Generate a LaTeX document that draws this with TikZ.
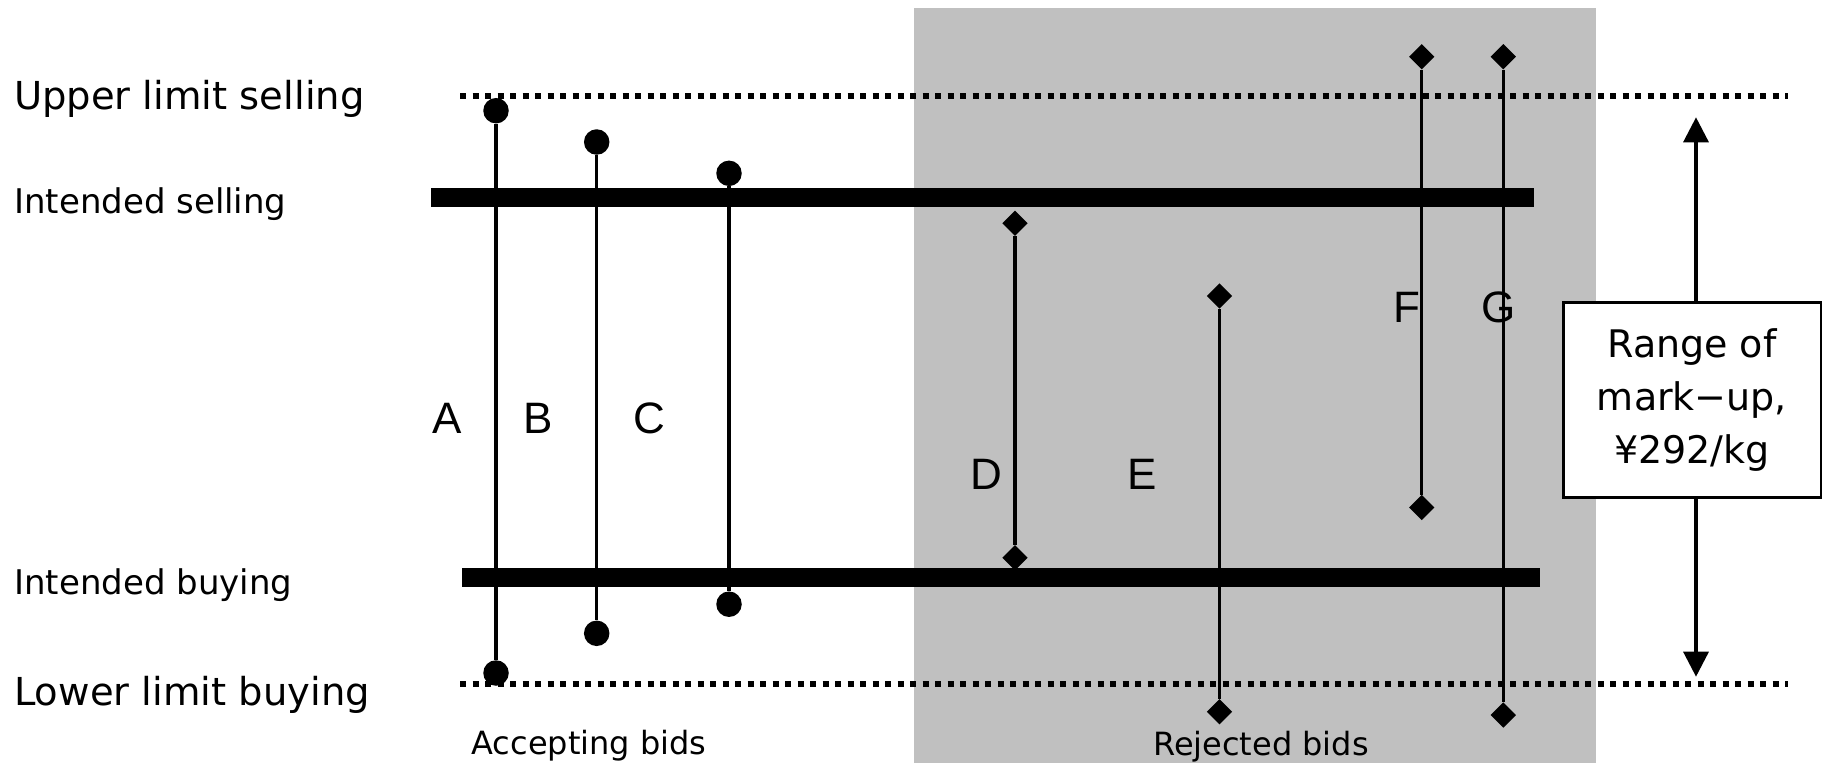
\documentclass[tikz,border=0pt]{standalone}
\usepackage{fontspec}
\setmainfont{DejaVu Sans}
\newfontfamily\letterfont{Liberation Sans}
\usetikzlibrary{arrows.meta,shapes.geometric}

\definecolor{rejectshade}{RGB}{192,192,192}

\tikzset{
  limitline/.style={line width=6pt, dash pattern=on 6pt off 6.5pt},
  intentbar/.style={line width=18.5pt},
  bidline/.style={line width=3.3pt},
  accdot/.style={circle, fill=black, inner sep=0pt, minimum size=25.5pt},
  rejdot/.style={diamond, fill=black, inner sep=0pt, minimum size=25.5pt},
  biglabel/.style={font=\fontsize{38.5}{46}\selectfont, inner sep=0pt, anchor=base west},
  midlabel/.style={font=\fontsize{34}{40}\selectfont, inner sep=0pt, anchor=base west},
  zonelabel/.style={font=\fontsize{32}{38}\selectfont, inner sep=0pt, anchor=base},
  bidlabel/.style={font=\letterfont\fontsize{44}{50}\selectfont, inner sep=0pt},
  rangebox/.style={draw, line width=3pt, fill=white, inner sep=0pt,
    minimum width=258pt, minimum height=195pt, align=center,
    font=\fontsize{38}{53.3}\selectfont},
  rangearrow/.style={line width=3.3pt, -{Triangle[length=25pt, width=25pt]}},
}

\begin{document}
\begin{tikzpicture}[x=1pt, y=-1pt]
  \useasboundingbox (0,0) rectangle (1822,763);

  % zone of rejected bids
  \fill[rejectshade] (914,8) rectangle (1596,763);

  % price levels
  \coordinate (ulA) at (460,95.7);  \coordinate (ulB) at (1788,95.7);
  \coordinate (llA) at (460,684.3); \coordinate (llB) at (1788,684.3);
  \draw[limitline] (ulA) -- (ulB);
  \draw[limitline] (llA) -- (llB);
  \coordinate (isA) at (431,197.5); \coordinate (isB) at (1534,197.5);
  \coordinate (ibA) at (462,577.5); \coordinate (ibB) at (1540,577.5);
  \draw[intentbar] (isA) -- (isB);
  \draw[intentbar] (ibA) -- (ibB);

  % level labels
  \node[biglabel] (ulsell) at (14,109) {Upper limit selling};
  \node[midlabel] (insell) at (14,213) {Intended selling};
  \node[midlabel] (inbuy)  at (14,594) {Intended buying};
  \node[biglabel] (llbuy)  at (14,705) {Lower limit buying};

  % accepted bids
  \node[accdot] (At) at (496,110.7) {};
  \node[accdot] (Ab) at (496,673) {};
  \node[accdot] (Bt) at (596.7,142) {};
  \node[accdot] (Bb) at (596.7,633.3) {};
  \node[accdot] (Ct) at (729,173.3) {};
  \node[accdot] (Cb) at (729,604.2) {};
  \draw[bidline] (At) -- (Ab);
  \draw[bidline] (Bt) -- (Bb);
  \draw[bidline] (Ct) -- (Cb);

  % rejected bids
  \node[rejdot] (Dt) at (1015,223.3) {};
  \node[rejdot] (Db) at (1015,557.8) {};
  \node[rejdot] (Et) at (1219.5,296) {};
  \node[rejdot] (Eb) at (1219.5,711.7) {};
  \node[rejdot] (Ft) at (1421.7,56.7) {};
  \node[rejdot] (Fb) at (1421.7,507.5) {};
  \node[rejdot] (Gt) at (1503.3,56.7) {};
  \node[rejdot] (Gb) at (1503.3,715) {};
  \draw[bidline] (Dt) -- (Db);
  \draw[bidline] (Et) -- (Eb);
  \draw[bidline] (Ft) -- (Fb);
  \draw[bidline] (Gt) -- (Gb);

  % bid letters
  \node[bidlabel] (lA) at (447,418.5) {A};
  \node[bidlabel] (lB) at (538,418.5) {B};
  \node[bidlabel] (lC) at (649.7,418.5) {C};
  \node[bidlabel] (lD) at (986.7,474.7) {D};
  \node[bidlabel] (lE) at (1142,474.7) {E};
  \node[bidlabel] (lF) at (1407.4,307.5) {F};
  \node[bidlabel] (lG) at (1498.2,307.5) {G};

  % zone captions
  \node[zonelabel] (acc) at (589,754.5) {Accepting bids};
  \node[zonelabel] (rej) at (1261,755) {Rejected bids};

  % mark-up range
  \node[rangebox] (range) at (1692,400) {Range of\\mark−up,\\¥292/kg};
  \coordinate (uptip) at (1696,117.3);
  \coordinate (downtip) at (1696,676.7);
  \draw[rangearrow] (range.north -| uptip) -- (uptip);
  \draw[rangearrow] (range.south -| downtip) -- (downtip);
\end{tikzpicture}
\end{document}
